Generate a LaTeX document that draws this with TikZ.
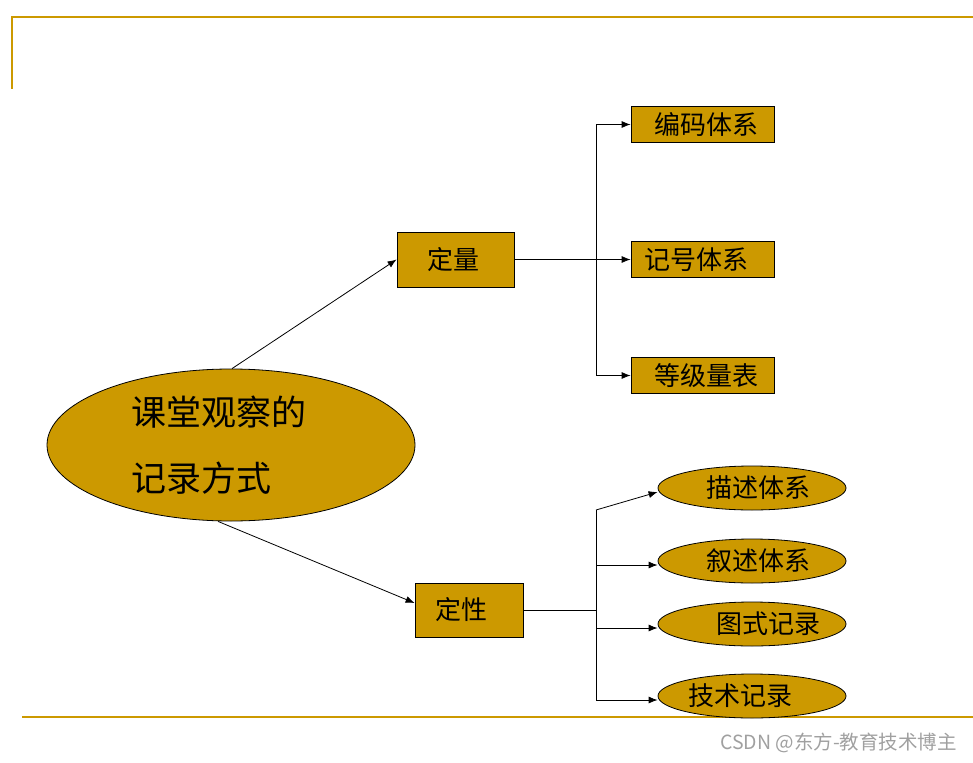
\documentclass[tikz,border=0pt]{standalone}
\usepackage{fontspec}
\newfontfamily\cjk{Noto Sans CJK SC}
\usetikzlibrary{arrows.meta,shapes.geometric}
\definecolor{gold}{HTML}{CC9900}
\definecolor{wm}{HTML}{A0A0A0}
\newcommand{\shiftx}[2]{\makebox[0pt]{\kern#1pt #2\kern-#1pt}}
\begin{document}
\begin{tikzpicture}[x=1pt,y=-1pt,
  conn/.style={draw=black,line width=0.8pt},
  arr/.style={conn,-{Latex[length=9pt,width=7pt]}},
  rulebar/.style={draw=gold,line width=2pt},
  gbox/.style={draw=black,line width=0.8pt,fill=gold,rectangle,inner sep=0pt,font=\cjk\fontsize{26}{30}\selectfont},
  gell/.style={draw=black,line width=0.8pt,fill=gold,ellipse,inner sep=0pt,minimum width=188pt,minimum height=44pt,font=\cjk\fontsize{26}{30}\selectfont}]
\useasboundingbox (0,0) rectangle (973,762);
% frame lines
\coordinate (tl) at (12,17);
\coordinate (tr) at (973,17);
\coordinate (lb) at (12,89);
\coordinate (bl) at (22,717);
\coordinate (br) at (973,717);
\draw[rulebar] (lb) -- (tl) -- (tr);
\draw[rulebar] (bl) -- (br);
% root
\node[draw=black,line width=0.8pt,fill=gold,ellipse,inner sep=0pt,minimum width=368pt,minimum height=152pt,
  text width=200pt,align=left,font=\cjk\fontsize{35}{66}\selectfont] (root) at (231,445) {课堂观察的\\记录方式};
% level 1
\node[gbox,minimum width=117pt,minimum height=55pt] (q) at (455.5,259.5) {\shiftx{-2}{定量}};
\node[gbox,minimum width=108pt,minimum height=54pt] (ql) at (469,610) {\shiftx{-8}{定性}};
% quantitative children
\node[gbox,minimum width=143pt,minimum height=36pt] (b1) at (702.5,124.5) {\shiftx{4}{编码体系}};
\node[gbox,minimum width=143pt,minimum height=36pt] (b2) at (702.5,259.5) {\shiftx{-6}{记号体系}};
\node[gbox,minimum width=143pt,minimum height=36pt] (b3) at (702.5,375.5) {\shiftx{4}{等级量表}};
% qualitative children
\node[gell] (e1) at (752,488) {\shiftx{6}{描述体系}};
\node[gell] (e2) at (752,561) {\shiftx{6}{叙述体系}};
\node[gell] (e3) at (752,624) {\shiftx{16}{图式记录}};
\node[gell] (e4) at (752,696) {\shiftx{-12}{技术记录}};
% root connectors
\draw[arr] ([xshift=1pt]root.north) -- (q.west);
\draw[arr] ([xshift=-13pt]root.south) -- ([yshift=7pt]ql.west);
% quantitative tree
\coordinate (jq) at (596,259.5);
\draw[conn] (q.east) -- (jq);
\draw[arr] (jq) -- (b2.west);
\draw[arr] (jq) |- (b1.west);
\draw[arr] (jq) |- (b3.west);
% qualitative tree
\coordinate (jl) at (596,610);
\coordinate (jt) at (596,510);
\coordinate (a1) at ([yshift=-4pt]e1.west);
\coordinate (a2) at ([yshift=-4pt]e2.west);
\coordinate (a3) at ([yshift=-4pt]e3.west);
\coordinate (a4) at ([yshift=-4pt]e4.west);
\draw[conn] (ql.east) -- (jl);
\draw[conn] (jt) -- (a4 -| jt);
\draw[arr] (jt) -- (a1);
\draw[arr] (a2 -| jt) -- (a2);
\draw[arr] (a3 -| jt) -- (a3);
\draw[arr] (a4 -| jt) -- (a4);
% watermark
\node[anchor=west,inner sep=0pt,text=wm,font=\cjk\fontsize{19.5}{22}\selectfont] (wmk) at (720,743) {CSDN @东方-教育技术博主};
\end{tikzpicture}
\end{document}
